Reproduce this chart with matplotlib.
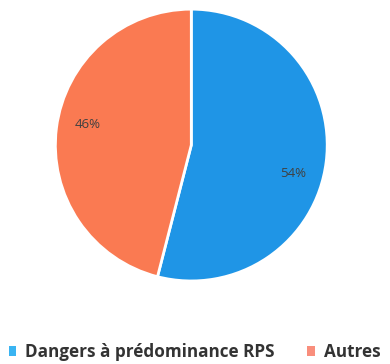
import matplotlib
matplotlib.use("Agg")
import numpy as np
import matplotlib.pyplot as plt
from matplotlib.patches import Patch

categories = ["Dangers à prédominance RPS", "Autres"]
values = [54, 46]
colors = ["#1F95E6", "#FA7A52"]
legend_colors = ["#3AB4F2", "#F98E7C"]

fig = plt.figure(figsize=(3.9, 3.64), dpi=100)
ax = fig.add_axes([0.142, 0.228, 0.697, 0.747])
wedges, texts, autotexts = ax.pie(
    values, colors=colors, startangle=90, counterclock=False,
    autopct=lambda p: f"{p:.0f}%", pctdistance=0.77,
    wedgeprops=dict(edgecolor="white", linewidth=2),
    textprops=dict(color="#404040", fontsize=9.5, family="Open Sans"),
)
# shift labels slightly clockwise from slice middle (as in the original layout)
label_shift = [-8.5, -4.0]
for w, t, s in zip(wedges, autotexts, label_shift):
    ang = np.deg2rad((w.theta1 + w.theta2) / 2 + s)
    t.set_position((0.775 * np.cos(ang), 0.775 * np.sin(ang)))

ax.set_xlim(-1.0, 1.0)
ax.set_ylim(-1.0, 1.0)
ax.set_aspect("equal")

handles = [Patch(facecolor=c, edgecolor="none") for c in legend_colors]
leg = fig.legend(handles, categories, loc="center", bbox_to_anchor=(0.499, 0.033),
                 ncol=2, frameon=False, handlelength=0.46, handleheight=0.55,
                 handletextpad=0.52, columnspacing=1.9, borderpad=0, borderaxespad=0,
                 prop=dict(family="Open Sans", weight="bold", size=12.3))
for t in leg.get_texts():
    t.set_color("#333333")

fig.savefig("out.png", dpi=100)
